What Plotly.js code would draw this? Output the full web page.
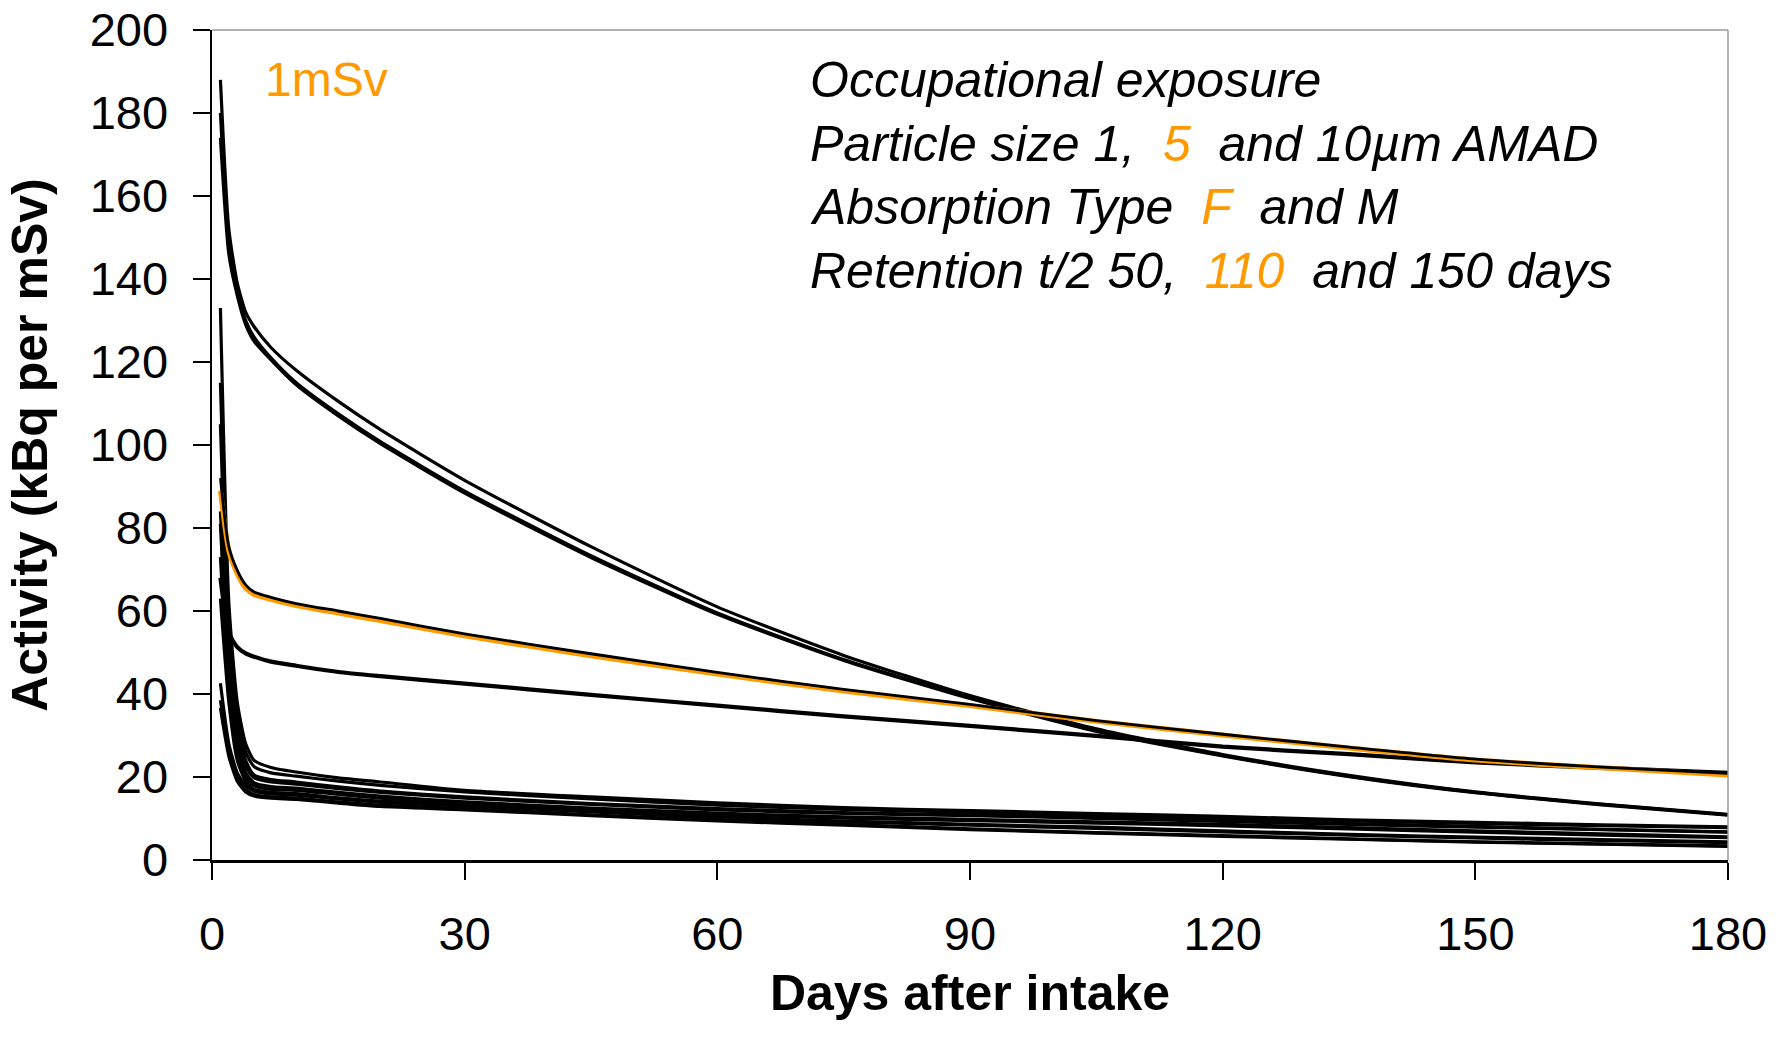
<!DOCTYPE html>
<html>
<head>
<meta charset="utf-8">
<script src="https://cdn.plot.ly/plotly-3.0.1.min.js"></script>
<style>
  html, body { margin: 0; padding: 0; background: #fff; }
  #chart { width: 1786px; height: 1046px; }
</style>
</head>
<body>
<div id="chart"></div>
<script>
// Days after intake at which the retained activity is sampled
const days = [1, 2, 3, 4, 5, 7, 10, 15, 20, 30, 45, 60, 75, 90, 105, 120, 135, 150, 165, 180];

// Upper bundle (short retention, large starting activity)
const upperA = [188, 152, 139, 132, 128.5, 123.5, 118, 110.5, 103.7, 91.5, 75.5, 61, 49.3, 39.6, 31.6, 25.4, 20.4, 16.4, 13.5, 11.0];
const upperB = [180, 148, 137, 130, 126, 121, 115, 107.5, 100.8, 88.9, 73.3, 59.5, 48.3, 39.1, 31.2, 25.2, 20.2, 16.3, 13.4, 10.9];
const upperC = [174, 146, 136, 129, 125, 120.5, 114.5, 107, 100.3, 88.4, 72.9, 59.2, 48.1, 38.9, 31.0, 25.1, 20.1, 16.2, 13.3, 10.8];

// 1 mSv reference case: 5 µm AMAD, Type F, t/2 110 days
const refCase = [89, 74.5, 69, 65.5, 64, 62.8, 61.3, 59.5, 57.7, 54.0, 49.2, 44.8, 40.7, 37.2, 33.4, 30.1, 27.0, 24.1, 22.2, 20.5];
const refTwin = [92, 75.5, 69.8, 66.3, 64.6, 63.3, 61.8, 60.0, 58.2, 54.5, 49.7, 45.2, 41.1, 37.5, 33.6, 30.3, 27.2, 24.3, 22.4, 20.9];

// Middle curve (long retention)
const middle = [68, 54.7, 51.3, 49.8, 49, 47.8, 46.8, 45.3, 44.3, 42.5, 39.8, 37.2, 34.6, 32.3, 29.9, 27.3, 25.5, 23.5, 22.2, 21.0];

// Lower bundle
const lower1  = [133, 62, 38, 28, 24, 22.3, 21.2, 19.8, 18.8, 16.8, 15.2, 13.8, 12.6, 11.9, 11.2, 10.5, 9.7, 9.1, 8.5, 8.0];
const lower2  = [115, 57, 35, 26, 22.5, 21, 20.2, 19.0, 18.0, 16.4, 14.7, 13.2, 12.2, 11.5, 10.8, 10.1, 9.4, 8.8, 8.3, 7.8];
const lower3  = [105, 52, 32, 24, 20.5, 19.4, 18.8, 17.6, 16.6, 15.2, 13.6, 12.4, 11.4, 10.9, 10.3, 9.5, 8.8, 8.1, 7.4, 6.8];
const lower4  = [84, 47, 29, 22.5, 19.8, 18.8, 18.3, 17.2, 16.3, 14.9, 13.4, 12.1, 11.2, 10.7, 10.0, 9.3, 8.6, 7.9, 7.3, 6.7];
const lower5  = [81, 44, 27, 21, 18.6, 17.7, 17.3, 16.3, 15.4, 14.0, 12.5, 11.3, 10.4, 9.8, 9.2, 8.6, 7.8, 7.0, 6.3, 5.6];
const lower6  = [73, 41, 26, 20, 17.9, 17.0, 16.8, 15.8, 14.9, 13.6, 12.1, 10.9, 10.1, 9.5, 8.9, 8.2, 7.5, 6.7, 6.0, 5.4];
const lower7  = [63, 38, 24, 19, 17.0, 16.3, 16.0, 15.0, 14.2, 13.3, 11.8, 10.4, 9.4, 8.6, 7.9, 7.0, 6.2, 5.5, 4.9, 4.4];
const lower8  = [42.6, 28, 21, 18, 16.6, 15.9, 15.6, 14.7, 13.9, 13.0, 11.6, 10.2, 9.2, 8.4, 7.6, 6.8, 6.0, 5.3, 4.7, 4.2];
const lower9  = [38.5, 26, 20, 17, 15.8, 15.2, 14.9, 14.0, 13.2, 12.4, 10.9, 9.6, 8.6, 7.5, 6.6, 5.9, 5.1, 4.4, 3.9, 3.4];
const lower10 = [36.6, 25, 19, 16.4, 15.4, 14.9, 14.6, 13.7, 12.9, 12.1, 10.7, 9.4, 8.4, 7.3, 6.5, 5.7, 5.0, 4.3, 3.8, 3.3];

const ORANGE = '#FF9900';
const FONT = '"Liberation Sans", Arial, sans-serif';

const blackSeries = [upperA, upperB, upperC, lower1, lower2, lower3, lower4, lower5,
                     lower6, lower7, lower8, lower9, lower10];

const lineTrace = (v, color, width) => ({
  x: days, y: v, type: 'scatter', mode: 'lines',
  line: { color: color, width: width, shape: 'spline', smoothing: 0.6 },
  hoverinfo: 'skip', showlegend: false
});

const traces = blackSeries.map(v => lineTrace(v, '#000', 3.2));
traces.push(lineTrace(middle, '#000', 4.2));
traces.push(lineTrace(refCase, ORANGE, 5));
traces.push(lineTrace(refTwin, '#000', 2.8));

const orangeSpan = t => '<span style="color:' + ORANGE + '">' + t + '</span>';
const infoLines = [
  'Occupational exposure',
  'Particle size 1, &#160;' + orangeSpan('5') + '&#160; and 10µm AMAD',
  'Absorption Type &#160;' + orangeSpan('F') + '&#160; and M',
  'Retention t/2 50, &#160;' + orangeSpan('110') + '&#160; and 150 days'
];
const infoY = [188, 172.5, 157.3, 141.9];

const annotations = infoLines.map((t, i) => ({
  x: 70.8, y: infoY[i], xref: 'x', yref: 'y',
  text: '<i>' + t + '</i>', showarrow: false,
  xanchor: 'left', yanchor: 'middle',
  font: { family: FONT, size: 50, color: '#000' }
}));
annotations.push({
  x: 6.0, y: 188, xref: 'x', yref: 'y', text: '1mSv', showarrow: false,
  xanchor: 'left', yanchor: 'middle',
  font: { family: FONT, size: 48, color: ORANGE }
});

const layout = {
  width: 1786, height: 1046,
  margin: { l: 212, r: 58, t: 30, b: 186 },
  paper_bgcolor: '#fff', plot_bgcolor: '#fff',
  showlegend: false,
  font: { family: FONT, color: '#000' },
  xaxis: {
    range: [0, 180], tick0: 0, dtick: 30, showgrid: false, zeroline: false,
    showline: true, linecolor: '#000', linewidth: 2.5,
    ticks: 'outside', ticklen: 17, tickwidth: 2, tickcolor: '#000',
    ticklabelstandoff: 14,
    tickfont: { family: FONT, size: 47, color: '#000' },
    title: { text: '<b>Days after intake</b>', font: { family: FONT, size: 50, color: '#000' }, standoff: 16 }
  },
  yaxis: {
    range: [0, 200], tick0: 0, dtick: 20, showgrid: false, zeroline: false,
    showline: true, linecolor: '#000', linewidth: 2.5,
    ticks: 'outside', ticklen: 17, tickwidth: 2, tickcolor: '#000',
    ticklabelstandoff: 15,
    tickfont: { family: FONT, size: 47, color: '#000' },
    title: { text: '<b>Activity (kBq per mSv)</b>', font: { family: FONT, size: 50, color: '#000' }, standoff: 26 }
  },
  shapes: [
    { type: 'line', xref: 'paper', yref: 'paper', x0: 0, x1: 1, y0: 1, y1: 1, line: { color: '#999', width: 1.5 } },
    { type: 'line', xref: 'paper', yref: 'paper', x0: 1, x1: 1, y0: 0, y1: 1, line: { color: '#999', width: 1.5 } }
  ],
  annotations: annotations
};

Plotly.newPlot('chart', traces, layout, { staticPlot: true, displayModeBar: false });
</script>
</body>
</html>
